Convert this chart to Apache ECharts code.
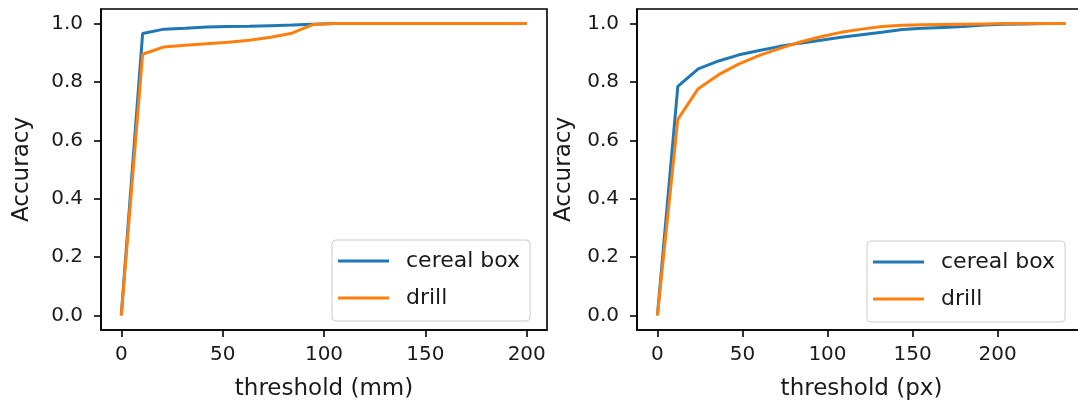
<!DOCTYPE html>
<html>
<head>
<meta charset="utf-8">
<script src="https://cdn.jsdelivr.net/npm/echarts@6/dist/echarts.min.js"></script>
<style>
  html, body { margin: 0; padding: 0; background: #fff; overflow: hidden; }
  #main { width: 1078px; height: 403px; }
</style>
</head>
<body>
<div id="main"></div>
<script>
// left panel: threshold in mm
var mmThresholds = [0, 10.53, 21.05, 31.58, 42.11, 52.63, 63.16, 73.68, 84.21, 94.74,
  105.26, 115.79, 126.32, 136.84, 147.37, 157.89, 168.42, 178.95, 189.47, 200];
var mmCereal = [0, 0.966, 0.981, 0.984, 0.988, 0.990, 0.991, 0.993, 0.995, 0.998,
  1.0, 1.0, 1.0, 1.0, 1.0, 1.0, 1.0, 1.0, 1.0, 1.0];
var mmDrill = [0, 0.895, 0.920, 0.926, 0.931, 0.936, 0.943, 0.953, 0.967, 0.997,
  1.0, 1.0, 1.0, 1.0, 1.0, 1.0, 1.0, 1.0, 1.0, 1.0];

// right panel: threshold in px
var pxThresholds = [0, 12, 24, 36, 48, 60, 72, 84, 96, 108, 120,
  132, 144, 156, 168, 180, 192, 204, 216, 228, 240];
var pxCereal = [0, 0.785, 0.845, 0.872, 0.893, 0.908, 0.922, 0.933, 0.943, 0.953, 0.962,
  0.970, 0.980, 0.984, 0.987, 0.990, 0.995, 0.998, 0.999, 1.0, 1.0];
var pxDrill = [0, 0.672, 0.777, 0.825, 0.862, 0.891, 0.915, 0.937, 0.955, 0.970, 0.981,
  0.990, 0.994, 0.996, 0.997, 0.998, 0.999, 1.0, 1.0, 1.0, 1.0];

var yTicks = [0, 0.2, 0.4, 0.6, 0.8, 1.0];
var mmTicks = [0, 50, 100, 150, 200];
var pxTicks = [0, 50, 100, 150, 200];
var seriesNames = ['cereal box', 'drill'];

var font = 'DejaVu Sans';
var textColor = '#1a1a1a';

function pairs(xs, ys) {
  return xs.map(function (x, i) { return [x, ys[i]]; });
}

function xAxisOf(idx, min, max, ticks, label, gap) {
  return {
    type: 'value', gridIndex: idx, min: min, max: max, position: 'bottom',
    name: label, nameLocation: 'middle', nameGap: gap,
    nameTextStyle: { fontFamily: font, fontSize: 23, color: textColor },
    axisLine: { show: true, onZero: false, lineStyle: { color: '#000', width: 1.6 } },
    axisTick: { show: true, length: 7, customValues: ticks, lineStyle: { color: '#000', width: 1.6 } },
    axisLabel: { customValues: ticks, margin: 15, fontFamily: font, fontSize: 20, color: textColor,
      formatter: function (v) { return String(v); } },
    splitLine: { show: false }
  };
}

function yAxisOf(idx, gap) {
  return {
    type: 'value', gridIndex: idx, min: -0.05, max: 1.05, position: 'left',
    name: 'Accuracy', nameLocation: 'middle', nameRotate: 90, nameGap: gap,
    nameTextStyle: { fontFamily: font, fontSize: 23, color: textColor },
    axisLine: { show: true, onZero: false, lineStyle: { color: '#000', width: 1.6 } },
    axisTick: { show: true, length: 7, customValues: yTicks, lineStyle: { color: '#000', width: 1.6 } },
    axisLabel: { customValues: yTicks, margin: 18, fontFamily: font, fontSize: 20, color: textColor,
      formatter: function (v) { return v.toFixed(1); } },
    splitLine: { show: false }
  };
}

function legendOf(left, top) {
  return {
    orient: 'vertical', left: left, top: top,
    data: seriesNames,
    icon: 'rect', itemWidth: 51, itemHeight: 3, itemGap: 15,
    padding: [10, 10, 12, 6],
    backgroundColor: 'rgba(255,255,255,0.8)',
    borderColor: '#cccccc', borderWidth: 1, borderRadius: 4,
    selectedMode: false,
    textStyle: { fontFamily: font, fontSize: 22, color: textColor, lineHeight: 20, padding: [0, 0, 0, 12] }
  };
}

function lineSeries(name, color, idx, data) {
  return {
    name: name, type: 'line', xAxisIndex: idx, yAxisIndex: idx,
    data: data, symbol: 'none', showSymbol: false, silent: true,
    lineStyle: { color: color, width: 3 }, itemStyle: { color: color },
    animation: false
  };
}

var chart = echarts.init(document.getElementById('main'), null, { renderer: 'canvas' });
chart.setOption({
  backgroundColor: '#fff',
  animation: false,
  grid: [
    { left: 101, top: 9, width: 446, height: 321, show: true, borderColor: '#000', borderWidth: 1.6,
      outerBoundsMode: 'none', containLabel: false },
    { left: 637, top: 9, width: 449, height: 321, show: true, borderColor: '#000', borderWidth: 1.6,
      outerBoundsMode: 'none', containLabel: false }
  ],
  xAxis: [
    xAxisOf(0, -10, 210, mmTicks, 'threshold (mm)', 48),
    xAxisOf(1, -12, 252, pxTicks, 'threshold (px)', 48)
  ],
  yAxis: [yAxisOf(0, 67), yAxisOf(1, 61)],
  legend: [legendOf(332, 240), legendOf(867, 241)],
  series: [
    lineSeries('cereal box', '#1f77b4', 0, pairs(mmThresholds, mmCereal)),
    lineSeries('drill', '#ff7f0e', 0, pairs(mmThresholds, mmDrill)),
    lineSeries('cereal box', '#1f77b4', 1, pairs(pxThresholds, pxCereal)),
    lineSeries('drill', '#ff7f0e', 1, pairs(pxThresholds, pxDrill))
  ]
});
</script>
</body>
</html>
